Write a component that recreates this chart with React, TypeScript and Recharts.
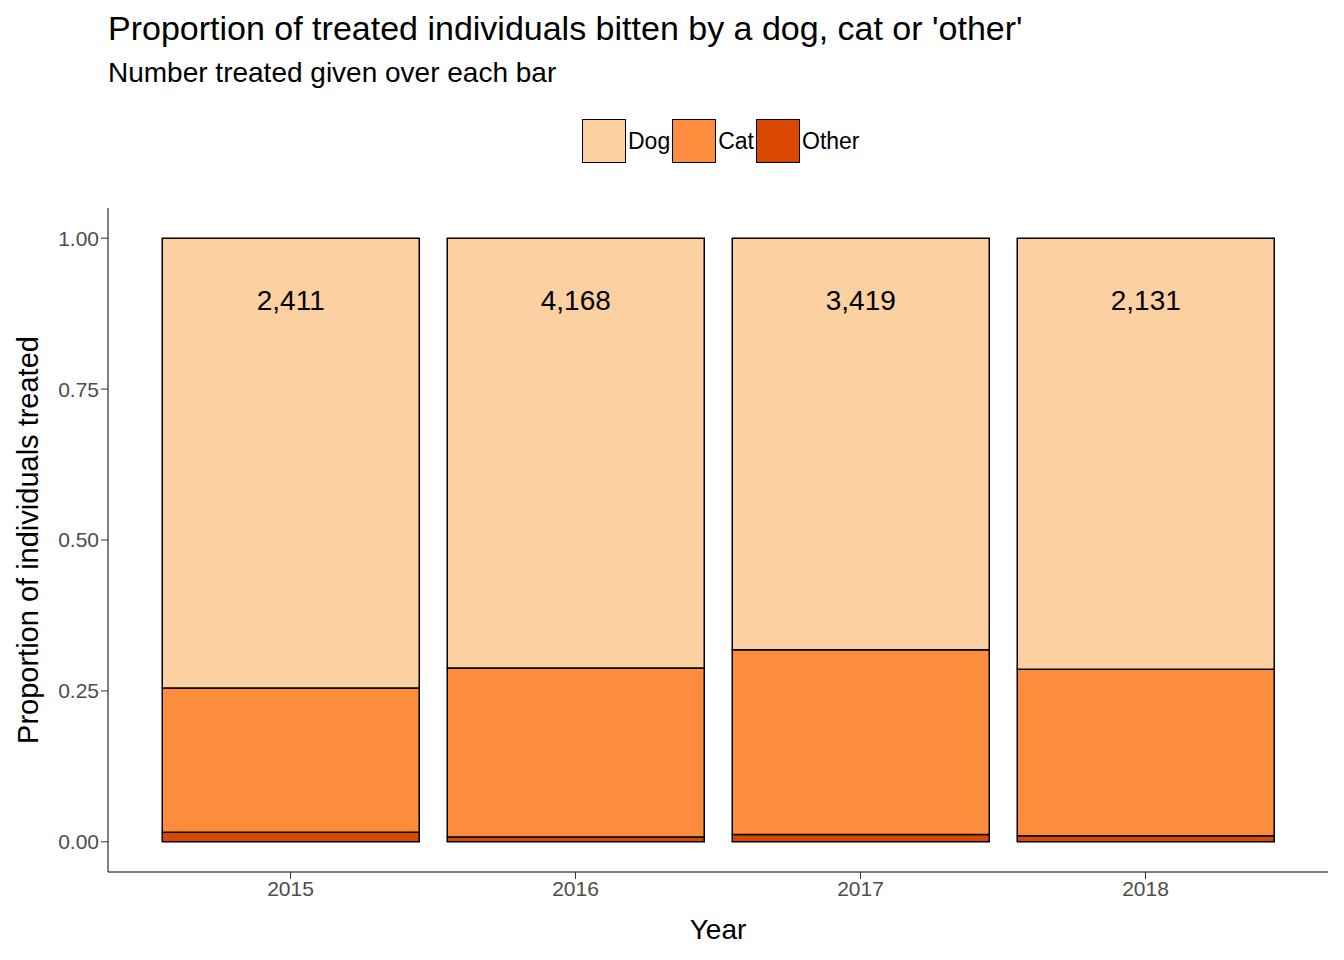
import { BarChart, Bar, XAxis, YAxis, LabelList } from 'recharts';

const years = ['2015', '2016', '2017', '2018'];
const other = [0.016, 0.008, 0.012, 0.01];
const cat = [0.239, 0.28, 0.306, 0.276];
const dog = [0.745, 0.712, 0.682, 0.714];
const treated = ['2,411', '4,168', '3,419', '2,131'];

const data = years.map((y, i) => ({ year: y, Other: other[i], Cat: cat[i], Dog: dog[i], n: treated[i] }));

const legend = [
  { name: 'Dog', color: '#FDD0A2' },
  { name: 'Cat', color: '#FD8D3C' },
  { name: 'Other', color: '#D94801' },
];

const font = 'Arial, "Liberation Sans", sans-serif';

export default function App() {
  return (
    <div style={{ position: 'relative', width: 1344, height: 960, margin: -8, fontFamily: font, background: '#fff' }}>
      <div style={{ position: 'absolute', left: 108, top: 9, fontSize: 34 }}>Proportion of treated individuals bitten by a dog, cat or 'other'</div>
      <div style={{ position: 'absolute', left: 108, top: 57, fontSize: 28 }}>Number treated given over each bar</div>
      <div style={{ position: 'absolute', left: 582, top: 119, display: 'flex', alignItems: 'center', fontSize: 23 }}>
        {legend.map(l => (
          <div key={l.name} style={{ display: 'flex', alignItems: 'center' }}>
            <div style={{ width: 42, height: 42, background: l.color, border: '1px solid #000' }} />
            <span style={{ marginLeft: 2, marginRight: 2 }}>{l.name}</span>
          </div>
        ))}
      </div>
      <div style={{ position: 'absolute', left: 28, top: 540, fontSize: 29, transform: 'translate(-50%,-50%) rotate(-90deg)', whiteSpace: 'nowrap' }}>Proportion of individuals treated</div>
      <div style={{ position: 'absolute', left: 718, top: 930, fontSize: 28, transform: 'translate(-50%,-50%)' }}>Year</div>
      <div style={{ position: 'absolute', left: 0, top: 0 }}>
        <BarChart width={1344} height={960} data={data} margin={{ top: 208, right: 16, left: 48, bottom: 58 }} barCategoryGap="5%">
          <XAxis dataKey="year" height={30} padding={{ left: 40, right: 40 }} stroke="#000" tick={{ fill: '#4d4d4d', fontSize: 21, fontFamily: font }} tickLine={{ stroke: '#333' }} tickSize={7} />
          <YAxis width={60} domain={[-0.05, 1.05]} ticks={[0, 0.25, 0.5, 0.75, 1]} tickFormatter={v => v.toFixed(2)} stroke="#000" tick={{ fill: '#4d4d4d', fontSize: 21, fontFamily: font }} tickLine={{ stroke: '#333' }} tickSize={7} allowDataOverflow />
          <Bar dataKey="Other" stackId="a" fill="#D94801" stroke="#000" strokeWidth={1.5} isAnimationActive={false} />
          <Bar dataKey="Cat" stackId="a" fill="#FD8D3C" stroke="#000" strokeWidth={1.5} isAnimationActive={false} />
          <Bar dataKey="Dog" stackId="a" fill="#FDD0A2" stroke="#000" strokeWidth={1.5} isAnimationActive={false}>
            <LabelList dataKey="n" content={(p: any) => (
              <text x={p.x + p.width / 2} y={p.y + 72} textAnchor="middle" fontSize={28} fontFamily={font} fill="#000">{p.value}</text>
            )} />
          </Bar>
        </BarChart>
      </div>
    </div>
  );
}
